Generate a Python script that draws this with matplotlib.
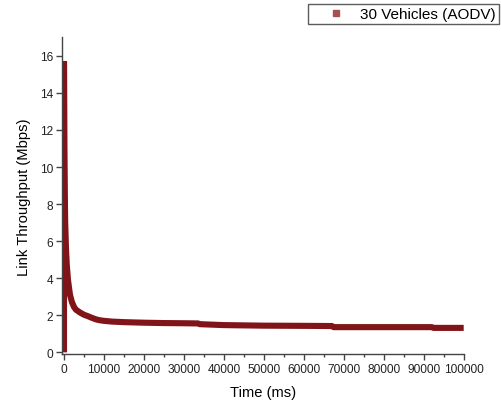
import matplotlib.pyplot as plt
from matplotlib.lines import Line2D
from matplotlib.ticker import MultipleLocator

plt.rcParams['font.family'] = ['Liberation Sans', 'DejaVu Sans']

# throughput trace
time_ms = [0, 0, 100, 200, 300, 500, 700, 1000, 1500, 2000, 2500, 3000, 4000,
           5000, 6000, 7000, 8000, 9000, 10000, 12000, 15000, 20000, 25000,
           30000, 33500, 34000, 40000, 50000, 60000, 67000, 67500, 80000,
           92000, 92500, 100000]
throughput = [0, 15.7, 11.0, 8.5, 7.0, 5.6, 4.7, 3.9, 3.1, 2.7, 2.45, 2.3, 2.15,
              2.03, 1.95, 1.86, 1.78, 1.73, 1.70, 1.66, 1.63, 1.60, 1.58,
              1.57, 1.56, 1.52, 1.47, 1.44, 1.43, 1.42, 1.36, 1.36,
              1.36, 1.32, 1.32]
series_name = '30 Vehicles (AODV)'
line_col = '#801418'

fig = plt.figure(figsize=(5.01, 4.02), dpi=100)
ax = fig.add_axes([62 / 501, 1 - 355.2 / 402, 401.7 / 501, (355.2 - 38.3) / 402])

ax.plot(time_ms, throughput, color=line_col, lw=4.4, solid_capstyle='butt',
        solid_joinstyle='miter')

ax.set_xlim(-500, 100000)
ax.set_ylim(-0.1, 17)
ax.xaxis.set_major_locator(MultipleLocator(10000))
ax.xaxis.set_minor_locator(MultipleLocator(5000))
ax.yaxis.set_major_locator(MultipleLocator(2))
ax.spines['top'].set_visible(False)
ax.spines['right'].set_visible(False)
for s in ['left', 'bottom']:
    ax.spines[s].set_color('#444444')
    ax.spines[s].set_linewidth(1.0)
ax.tick_params(which='major', direction='out', length=4, width=1,
               color='#444444', labelsize=8.6, labelcolor='#222222', pad=2.5)
ax.tick_params(which='minor', direction='out', length=2.5, width=1,
               color='#444444')
ax.set_xlabel('Time (ms)', fontsize=10.6, labelpad=7)
ax.set_ylabel('Link Throughput (Mbps)', fontsize=10.6, labelpad=6)

handle = Line2D([], [], ls='none', marker='s', ms=4.5, color='#a64f55')
leg = fig.legend([handle], [series_name], loc='upper right',
                 bbox_to_anchor=(499 / 501, 1 - 5 / 402), fontsize=11,
                 frameon=True, fancybox=False, borderpad=0.2,
                 handletextpad=0.0, handlelength=3.2, borderaxespad=0)
leg.get_frame().set_edgecolor('#333333')
leg.get_frame().set_linewidth(1.0)

fig.savefig('out.png', dpi=100)
